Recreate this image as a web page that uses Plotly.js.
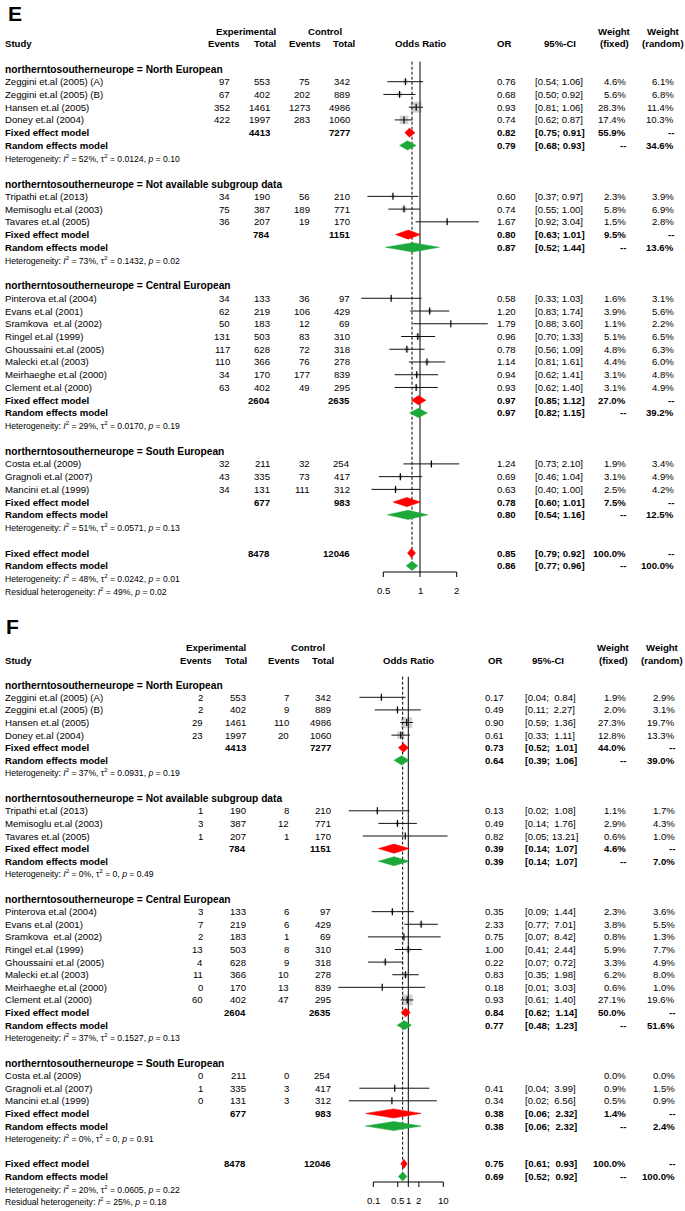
<!DOCTYPE html>
<html><head><meta charset="utf-8">
<script src="https://cdn.plot.ly/plotly-3.0.1.min.js"></script>
<style>html,body{margin:0;padding:0;background:#fff}#chart{width:685px;height:1211px}</style>
</head><body><div id="chart"></div>
<script>
// ---------------- DATA ----------------
const groups = ["North European", "Not available subgroup data", "Central European", "South European"];
const studies = ["Zeggini et.al (2005) (A)", "Zeggini et.al (2005) (B)", "Hansen et.al (2005)", "Doney et.al (2004)",
  "Tripathi et.al (2013)", "Memisoglu et.al (2003)", "Tavares et.al (2005)",
  "Pinterova et.al (2004)", "Evans et.al (2001)", "Sramkova\u00a0 et.al (2002)", "Ringel et.al (1999)", "Ghoussaini et.al (2005)",
  "Malecki et.al (2003)", "Meirhaeghe et.al (2000)", "Clement et.al (2000)",
  "Costa et.al (2009)", "Gragnoli et.al (2007)", "Mancini et.al (1999)"];
const studyGroup = [0,0,0,0,1,1,1,2,2,2,2,2,2,2,2,3,3,3];

// Panel E
const eExpEvents  = [97,67,352,422,34,75,36,34,62,50,131,117,110,34,63,32,43,34];
const eExpTotal   = [553,402,1461,1997,190,387,207,133,219,183,503,628,366,170,402,211,335,131];
const eCtrlEvents = [75,202,1273,283,56,189,19,36,106,12,83,72,76,177,49,32,73,111];
const eCtrlTotal  = [342,889,4986,1060,210,771,170,97,429,69,310,318,278,839,295,254,417,312];
const eOR  = [0.76,0.68,0.93,0.74,0.60,0.74,1.67,0.58,1.20,1.79,0.96,0.78,1.14,0.94,0.93,1.24,0.69,0.63];
const eLo  = [0.54,0.50,0.81,0.62,0.37,0.55,0.92,0.33,0.83,0.88,0.70,0.56,0.81,0.62,0.62,0.73,0.46,0.40];
const eHi  = [1.06,0.92,1.06,0.87,0.97,1.00,3.04,1.03,1.74,3.60,1.33,1.09,1.61,1.41,1.40,2.10,1.04,1.00];
const eWFixed  = [4.6,5.6,28.3,17.4,2.3,5.8,1.5,1.6,3.9,1.1,5.1,4.8,4.4,3.1,3.1,1.9,3.1,2.5];
const eWRandom = [6.1,6.8,11.4,10.3,3.9,6.9,2.8,3.1,5.6,2.2,6.5,6.3,6.0,4.8,4.9,3.4,4.9,4.2];
const eSubExpTotal  = [4413,784,2604,677];
const eSubCtrlTotal = [7277,1151,2635,983];
const eSubFixedOR = [0.82,0.80,0.97,0.78];
const eSubFixedLo = [0.75,0.63,0.85,0.60];
const eSubFixedHi = [0.91,1.01,1.12,1.01];
const eSubFixedW  = [55.9,9.5,27.0,7.5];
const eSubRandomOR = [0.79,0.87,0.97,0.80];
const eSubRandomLo = [0.68,0.52,0.82,0.54];
const eSubRandomHi = [0.93,1.44,1.15,1.16];
const eSubRandomW  = [34.6,13.6,39.2,12.5];
const eSubI2   = [52,73,29,51];
const eSubTau2 = ["0.0124","0.1432","0.0170","0.0571"];
const eSubP    = ["0.10","0.02","0.19","0.13"];
const eTotals  = [8478,12046];
const eOverallFixed  = [0.85,0.79,0.92];
const eOverallRandom = [0.86,0.77,0.96];
const eOverallHet = [48,"0.0242","0.01"];
const eResidualHet = [49,"0.02"];
const eTicks = [0.5,1,2];

// Panel F
const fExpEvents  = [2,2,29,23,1,3,1,3,7,2,13,4,11,0,60,0,1,0];
const fExpTotal   = [553,402,1461,1997,190,387,207,133,219,183,503,628,366,170,402,211,335,131];
const fCtrlEvents = [7,9,110,20,8,12,1,6,6,1,8,9,10,13,47,0,3,3];
const fCtrlTotal  = [342,889,4986,1060,210,771,170,97,429,69,310,318,278,839,295,254,417,312];
const fOR  = [0.17,0.49,0.90,0.61,0.13,0.49,0.82,0.35,2.33,0.75,1.00,0.22,0.83,0.18,0.93,null,0.41,0.34];
const fLo  = [0.04,0.11,0.59,0.33,0.02,0.14,0.05,0.09,0.77,0.07,0.41,0.07,0.35,0.01,0.61,null,0.04,0.02];
const fHi  = [0.84,2.27,1.36,1.11,1.08,1.76,13.21,1.44,7.01,8.42,2.44,0.72,1.98,3.03,1.40,null,3.99,6.56];
const fWFixed  = [1.9,2.0,27.3,12.8,1.1,2.9,0.6,2.3,3.8,0.8,5.9,3.3,6.2,0.6,27.1,0.0,0.9,0.5];
const fWRandom = [2.9,3.1,19.7,13.3,1.7,4.3,1.0,3.6,5.5,1.3,7.7,4.9,8.0,1.0,19.6,0.0,1.5,0.9];
const fSubExpTotal  = [4413,784,2604,677];
const fSubCtrlTotal = [7277,1151,2635,983];
const fSubFixedOR = [0.73,0.39,0.84,0.38];
const fSubFixedLo = [0.52,0.14,0.62,0.06];
const fSubFixedHi = [1.01,1.07,1.14,2.32];
const fSubFixedW  = [44.0,4.6,50.0,1.4];
const fSubRandomOR = [0.64,0.39,0.77,0.38];
const fSubRandomLo = [0.39,0.14,0.48,0.06];
const fSubRandomHi = [1.06,1.07,1.23,2.32];
const fSubRandomW  = [39.0,7.0,51.6,2.4];
const fSubI2   = [37,0,37,0];
const fSubTau2 = ["0.0931","0","0.1527","0"];
const fSubP    = ["0.19","0.49","0.13","0.91"];
const fTotals  = [8478,12046];
const fOverallFixed  = [0.75,0.61,0.93];
const fOverallRandom = [0.69,0.52,0.92];
const fOverallHet = [20,"0.0605","0.22"];
const fResidualHet = [25,"0.18"];
const fTicks = [0.1,0.5,1,2,10];

// ---------------- DRAWING ----------------
const W = 685, H = 1211;
const FONT = "Liberation Sans, Arial, sans-serif";
const FS = 9.6, FSG = 10.2, FSH = 8.6;
const RED = "#ff0000", GREEN = "#1ca83a", GREY = "#bebebe";

const E = {
  label:"E", xa:"x", ya:"y", r0:81.7, sp:12.74,
  labelX:7, labelY:13, topHdrY:31.7, hdrY:43.3, vTop:61.7, axisY:572, tickEnd:577, labY:590.7,
  c:{study:4, ev1:231, tot1:271, ev2:311, tot2:351, or:496, ci:534, wf:627, wr:675},
  h:{exp:246, ctl:325, ev1:240, tot1:277, ev2:321, tot2:356, odds:420, or:496, ci:560, wf:614, wr:663},
  pad:false,
  d:{expEv:eExpEvents, expTot:eExpTotal, ctlEv:eCtrlEvents, ctlTot:eCtrlTotal, or:eOR, lo:eLo, hi:eHi, wf:eWFixed, wr:eWRandom,
     sExp:eSubExpTotal, sCtl:eSubCtrlTotal, sfOR:eSubFixedOR, sfLo:eSubFixedLo, sfHi:eSubFixedHi, sfW:eSubFixedW,
     srOR:eSubRandomOR, srLo:eSubRandomLo, srHi:eSubRandomHi, srW:eSubRandomW, i2:eSubI2, tau2:eSubTau2, p:eSubP,
     tot:eTotals, of:eOverallFixed, orr:eOverallRandom, oh:eOverallHet, rh:eResidualHet, ticks:eTicks}
};
const F = {
  label:"F", xa:"x2", ya:"y2", r0:697.3, sp:12.61,
  labelX:5, labelY:626, topHdrY:647.3, hdrY:660, vTop:676.7, axisY:1182, tickEnd:1187, labY:1200.7,
  c:{study:4, ev1:204, tot1:247, ev2:290, tot2:332, or:484.5, ci:523.5, wf:627, wr:676},
  h:{exp:216, ctl:308, ev1:212, tot1:248, ev2:300, tot2:335, odds:408, or:486.7, ci:548, wf:613, wr:662},
  pad:true,
  d:{expEv:fExpEvents, expTot:fExpTotal, ctlEv:fCtrlEvents, ctlTot:fCtrlTotal, or:fOR, lo:fLo, hi:fHi, wf:fWFixed, wr:fWRandom,
     sExp:fSubExpTotal, sCtl:fSubCtrlTotal, sfOR:fSubFixedOR, sfLo:fSubFixedLo, sfHi:fSubFixedHi, sfW:fSubFixedW,
     srOR:fSubRandomOR, srLo:fSubRandomLo, srHi:fSubRandomHi, srW:fSubRandomW, i2:fSubI2, tau2:fSubTau2, p:fSubP,
     tot:fTotals, of:fOverallFixed, orr:fOverallRandom, oh:fOverallHet, rh:fResidualHet, ticks:fTicks}
};

function txt(x, y, yref, text, xanchor, size, bold) {
  return {xref:"paper", yref:yref, x:x/W, y:y, text: bold ? "<b>"+text+"</b>" : text,
    xanchor:xanchor, yanchor:"middle", showarrow:false, borderpad:0,
    font:{family:FONT, size:size, color:"#000"}};
}
const f2 = v => v.toFixed(2);
const pct = v => v.toFixed(1) + "%";
function ciStr(lo, hi, pad) {
  let h = f2(hi);
  if (pad) while (h.length < 5) h = "\u00a0" + h;
  return "[" + f2(lo) + ";\u00a0" + h + "]";
}

const traces = [], annotations = [];

function panel(P) {
  const D = P.d, yr = P.ya, c = P.c, h = P.h;
  const r = px => (px - P.r0) / P.sp;
  const base = {xaxis:P.xa, yaxis:P.ya, hoverinfo:"skip", showlegend:false};
  annotations.push(txt(P.labelX, r(P.labelY), yr, P.label, "left", 21, true));
  const ty = r(P.topHdrY), hy = r(P.hdrY);
  annotations.push(txt(h.exp, ty, yr, "Experimental", "center", FS, true));
  annotations.push(txt(h.ctl, ty, yr, "Control", "center", FS, true));
  annotations.push(txt(h.wf, ty, yr, "Weight", "center", FS, true));
  annotations.push(txt(h.wr, ty, yr, "Weight", "center", FS, true));
  annotations.push(txt(c.study, hy, yr, "Study", "left", FS, true));
  annotations.push(txt(h.ev1, hy, yr, "Events", "right", FS, true));
  annotations.push(txt(h.tot1, hy, yr, "Total", "right", FS, true));
  annotations.push(txt(h.ev2, hy, yr, "Events", "right", FS, true));
  annotations.push(txt(h.tot2, hy, yr, "Total", "right", FS, true));
  annotations.push(txt(h.odds, hy, yr, "Odds Ratio", "center", FS, true));
  annotations.push(txt(h.or, hy, yr, "OR", "left", FS, true));
  annotations.push(txt(h.ci, hy, yr, "95%-CI", "center", FS, true));
  annotations.push(txt(h.wf, hy, yr, "(fixed)", "center", FS, true));
  annotations.push(txt(h.wr, hy, yr, "(random)", "center", FS, true));

  const sqX=[], sqY=[], sqS=[], ciX=[], ciY=[], tX=[], tY=[];
  const diamond = (est, lo, hi, row, color) => {
    const dh = 0.36;
    traces.push(Object.assign({type:"scatter", mode:"lines", x:[lo, est, hi, est, lo],
      y:[row, row-dh, row, row+dh, row], fill:"toself", fillcolor:color, line:{color:color, width:0.5}}, base));
  };
  const summaryRows = (row, label, expT, ctlT, est, lo, hi, wf, wr, color) => {
    annotations.push(txt(c.study, row, yr, label, "left", FS, true));
    if (expT !== null) {
      annotations.push(txt(c.tot1, row, yr, String(expT), "right", FS, true));
      annotations.push(txt(c.tot2, row, yr, String(ctlT), "right", FS, true));
    }
    annotations.push(txt(c.or, row, yr, f2(est), "left", FS, true));
    annotations.push(txt(c.ci, row, yr, ciStr(lo, hi, P.pad), "left", FS, true));
    annotations.push(txt(c.wf, row, yr, wf, "right", FS, true));
    annotations.push(txt(c.wr, row, yr, wr, "right", FS, true));
    diamond(est, lo, hi, row, color);
  };

  let row = -1;
  groups.forEach((g, gi) => {
    annotations.push(txt(c.study, row + 0.03, yr, "northerntosoutherneurope = " + g, "left", FSG, true));
    row++;
    studies.forEach((s, i) => {
      if (studyGroup[i] !== gi) return;
      annotations.push(txt(c.study, row, yr, s, "left", FS, false));
      annotations.push(txt(c.ev1, row, yr, String(D.expEv[i]), "right", FS, false));
      annotations.push(txt(c.tot1, row, yr, String(D.expTot[i]), "right", FS, false));
      annotations.push(txt(c.ev2, row, yr, String(D.ctlEv[i]), "right", FS, false));
      annotations.push(txt(c.tot2, row, yr, String(D.ctlTot[i]), "right", FS, false));
      if (D.or[i] !== null) {
        annotations.push(txt(c.or, row, yr, f2(D.or[i]), "left", FS, false));
        annotations.push(txt(c.ci, row, yr, ciStr(D.lo[i], D.hi[i], P.pad), "left", FS, false));
        sqX.push(D.or[i]); sqY.push(row); sqS.push(2.05 * Math.sqrt(D.wf[i]));
        ciX.push(D.lo[i], D.hi[i], null); ciY.push(row, row, null);
        tX.push(D.or[i]); tY.push(row);
      }
      annotations.push(txt(c.wf, row, yr, pct(D.wf[i]), "right", FS, false));
      annotations.push(txt(c.wr, row, yr, pct(D.wr[i]), "right", FS, false));
      row++;
    });
    summaryRows(row, "Fixed effect model", D.sExp[gi], D.sCtl[gi], D.sfOR[gi], D.sfLo[gi], D.sfHi[gi], pct(D.sfW[gi]), "--", RED);
    row++;
    summaryRows(row, "Random effects model", null, null, D.srOR[gi], D.srLo[gi], D.srHi[gi], "--", pct(D.srW[gi]), GREEN);
    row++;
    annotations.push(txt(c.study, row, yr,
      "Heterogeneity: <i>I</i><sup>2</sup> = " + D.i2[gi] + "%, \u03c4<sup>2</sup> = " + D.tau2[gi] + ", <i>p</i> = " + D.p[gi],
      "left", FSH, false));
    row += 2;
  });
  summaryRows(row, "Fixed effect model", D.tot[0], D.tot[1], D.of[0], D.of[1], D.of[2], "100.0%", "--", RED);
  row++;
  summaryRows(row, "Random effects model", null, null, D.orr[0], D.orr[1], D.orr[2], "--", "100.0%", GREEN);
  row++;
  annotations.push(txt(c.study, row, yr,
    "Heterogeneity: <i>I</i><sup>2</sup> = " + D.oh[0] + "%, \u03c4<sup>2</sup> = " + D.oh[1] + ", <i>p</i> = " + D.oh[2],
    "left", FSH, false));
  row++;
  annotations.push(txt(c.study, row, yr,
    "Residual heterogeneity: <i>I</i><sup>2</sup> = " + D.rh[0] + "%, <i>p</i> = " + D.rh[1],
    "left", FSH, false));

  // reference lines
  const top = r(P.vTop), ax = r(P.axisY), te = r(P.tickEnd);
  traces.unshift(Object.assign({type:"scatter", mode:"lines", x:[D.orr[0], D.orr[0]], y:[top, ax - 0.2],
    line:{color:"#000", width:1, dash:"3px,2px"}}, base));
  traces.unshift(Object.assign({type:"scatter", mode:"lines", x:[1, 1], y:[top, ax],
    line:{color:"#000", width:1}}, base));
  // squares, CI lines, estimate ticks
  traces.unshift(Object.assign({type:"scatter", mode:"markers", x:sqX, y:sqY,
    marker:{symbol:"square", size:sqS, color:GREY, line:{width:0}}}, base));
  traces.push(Object.assign({type:"scatter", mode:"lines", x:ciX, y:ciY, line:{color:"#111", width:1}}, base));
  traces.push(Object.assign({type:"scatter", mode:"markers", x:tX, y:tY,
    marker:{symbol:"line-ns-open", size:5, color:"#000", line:{color:"#000", width:1.2}}}, base));
  // axis
  const axX = [D.ticks[0], D.ticks[D.ticks.length-1], null], axY = [ax, ax, null];
  D.ticks.forEach(t => { axX.push(t, t, null); axY.push(ax, te, null); });
  traces.push(Object.assign({type:"scatter", mode:"lines", x:axX, y:axY, line:{color:"#000", width:1}}, base));
  D.ticks.forEach(t => annotations.push({xref:P.xa, yref:yr, x:Math.log10(t), y:r(P.labY), text:String(t),
    xanchor:"center", yanchor:"middle", showarrow:false, borderpad:0, font:{family:FONT, size:FS, color:"#000"}}));
}
panel(E);
panel(F);

const split = 1 - 605 / H;
const hidden = {showgrid:false, zeroline:false, showline:false, showticklabels:false, ticks:""};
const layout = {
  width:W, height:H, margin:{l:0, r:0, t:0, b:0}, paper_bgcolor:"#fff", plot_bgcolor:"rgba(0,0,0,0)",
  showlegend:false,
  xaxis:Object.assign({type:"log", domain:[340/W, 500/W], range:[-(80/121.9), 80/121.9], anchor:"y"}, hidden),
  yaxis:Object.assign({domain:[split, 1], range:[(605 - E.r0)/E.sp, (0 - E.r0)/E.sp], anchor:"x"}, hidden),
  xaxis2:Object.assign({type:"log", domain:[330/W, 490/W], range:[(330-408.3)/35, (490-408.3)/35], anchor:"y2"}, hidden),
  yaxis2:Object.assign({domain:[0, split], range:[(H - F.r0)/F.sp, (605 - F.r0)/F.sp], anchor:"x2"}, hidden),
  annotations:annotations
};
Plotly.newPlot("chart", traces, layout, {staticPlot:true, displayModeBar:false});
</script>
</body></html>
